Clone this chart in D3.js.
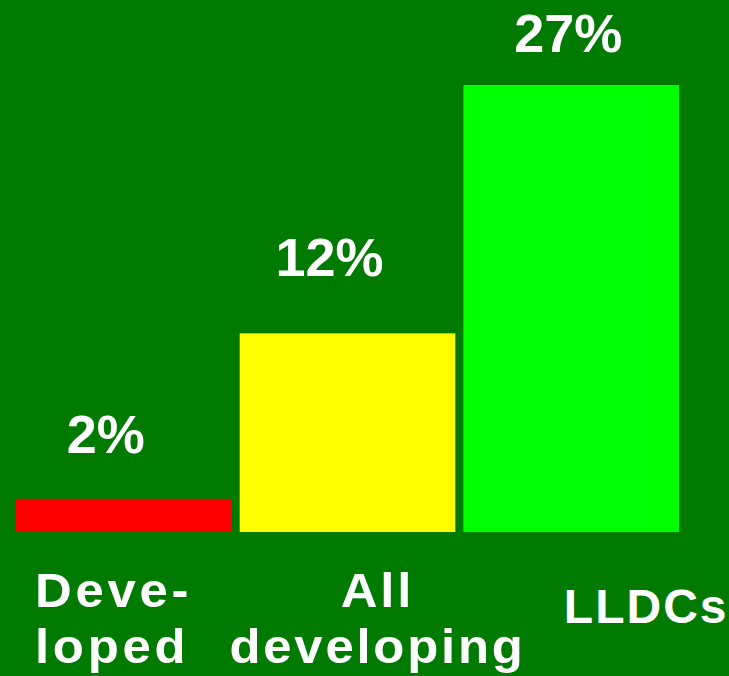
<!DOCTYPE html>
<html>
<head>
<meta charset="utf-8">
<script src="https://cdn.jsdelivr.net/npm/d3@7"></script>
<style>
  html, body { margin: 0; padding: 0; background: #007A00; }
  svg { display: block; }
  text { font-family: "Liberation Sans", Arial, sans-serif; font-weight: bold; fill: #ffffff; }
</style>
</head>
<body>
<script>
// ---- data ----
const categories = ["Developed", "All developing", "LLDCs"];
const values = [2, 12, 27];
const valueLabels = ["2%", "12%", "27%"];
const categoryLines = [["Deve-", "loped"], ["All", "developing"], ["LLDCs"]];
const barColors = ["#FF0000", "#FFFF00", "#00FF00"];

// ---- layout ----
const W = 729, H = 676;
const svg = d3.select("body").append("svg").attr("width", W).attr("height", H);
svg.append("rect").attr("width", W).attr("height", H).attr("fill", "#007A00");

const x = d3.scaleBand().domain(categories).range([16, 679]).paddingInner(0.036).paddingOuter(0);
const y = d3.scaleLinear().domain([0, 27]).range([532, 85]);

// bars
svg.selectAll("rect.bar").data(categories).join("rect")
  .attr("class", "bar")
  .attr("x", d => x(d))
  .attr("width", x.bandwidth())
  .attr("y", (d, i) => y(values[i]))
  .attr("height", (d, i) => y(0) - y(values[i]))
  .attr("fill", (d, i) => barColors[i]);

// value labels
const valueLift = [46, 57, 33];
const valueDx = [-18, -18, -3];
svg.selectAll("text.val").data(categories).join("text")
  .attr("class", "val")
  .attr("x", (d, i) => x(d) + x.bandwidth() / 2 + valueDx[i])
  .attr("y", (d, i) => y(values[i]) - valueLift[i])
  .attr("text-anchor", "middle")
  .attr("font-size", 54)
  .text((d, i) => valueLabels[i]);

// category labels
const catLayout = [
  { anchor: "start", dx: -x.bandwidth() / 2 + 19, y0: 607, spacing: 3.5, sx: 1.06 },
  { anchor: "middle", dx: 30, y0: 607, spacing: 2.6, sx: 1.06 },
  { anchor: "middle", dx: 75, y0: 623, spacing: 2, sx: 1.0 }
];
categories.forEach((c, i) => {
  const L = catLayout[i];
  const cx = x(c) + x.bandwidth() / 2 + L.dx;
  const t = svg.append("text")
    .attr("transform", `translate(${cx},0) scale(${L.sx},1)`)
    .attr("x", 0)
    .attr("y", L.y0)
    .attr("text-anchor", L.anchor)
    .attr("font-size", 48)
    .style("letter-spacing", L.spacing + "px");
  categoryLines[i].forEach((line, j) => {
    t.append("tspan")
      .attr("x", 0)
      .attr("dy", j === 0 ? 0 : 56)
      .text(line);
  });
});
</script>
</body>
</html>
